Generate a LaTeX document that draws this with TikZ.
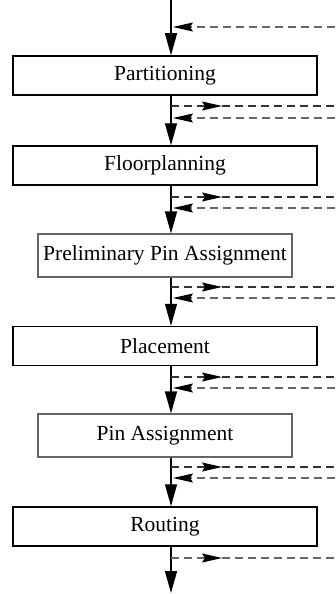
\documentclass[tikz,border=0pt]{standalone}
\usepackage{fontspec}
\setmainfont{Liberation Serif}
\usetikzlibrary{arrows.meta}
\begin{document}
\begin{tikzpicture}[x=1pt,y=-1pt,
  stagebox/.style={draw=black, line width=1.5pt, minimum width=304pt, minimum height=39pt, inner sep=0pt, font=\fontsize{21.5}{25}\selectfont},
  pinbox/.style={draw=black!60, line width=1.2pt, minimum width=254pt, minimum height=43pt, inner sep=0pt, font=\fontsize{21.5}{25}\selectfont},
  flow/.style={line width=1.4pt, -{Triangle[length=22pt,width=12pt]}},
  fbout/.style={dash pattern=on 8pt off 5pt, line width=1.1pt, draw=black!80},
  fbback/.style={dash pattern=on 8pt off 5pt, line width=1.1pt, draw=black!60},
  fbtip/.style={-{Stealth[length=20pt,width=9pt,inset=3pt,color=black,fill=black]}}
]
\useasboundingbox (0,0) rectangle (335,594);

\node[stagebox] (p)   at (165,75.5)  {Partitioning};
\node[stagebox] (f)   at (165,165.5) {Floorplanning};
\node[pinbox]   (ppa) at (165,255.5) {Preliminary Pin Assignment};
\node[stagebox] (pl)  at (165,346)   {Placement};
\node[pinbox]   (pa)  at (165,435.5) {Pin Assignment};
\node[stagebox] (r)   at (165,526.5) {Routing};

\coordinate (top) at (171,0);
\coordinate (bot) at (171,593);

\draw[flow] (top) -- (p.north -| top);
\draw[flow] (p.south -| top) -- (f.north -| top);
\draw[flow] (f.south -| top) -- (ppa.north -| top);
\draw[flow] (ppa.south -| top) -- (pl.north -| top);
\draw[flow] (pl.south -| top) -- (pa.north -| top);
\draw[flow] (pa.south -| top) -- (r.north -| top);
\draw[flow] (r.south -| top) -- (bot);

% incoming feedback at top
\coordinate (ine) at (335,27);
\coordinate (ins) at (173,27);
\draw[fbback, fbtip] (ine) -- (ins);

% feedback pairs between stages
\foreach \ya/\yb [count=\i] in {106/118, 197/208, 287/298, 377/388, 467/478} {
  \coordinate (o\i) at (171,\ya);
  \coordinate (m\i) at (222,\ya);
  \coordinate (e\i) at (335,\ya);
  \coordinate (b\i) at (335,\yb);
  \coordinate (t\i) at (173,\yb);
  \draw[fbout, fbtip] (o\i) -- (m\i);
  \draw[fbout] (m\i) -- (e\i);
  \draw[fbback, fbtip] (b\i) -- (t\i);
}

% outgoing feedback at bottom
\coordinate (lo) at (171,558);
\coordinate (lm) at (222,558);
\coordinate (le) at (335,558);
\draw[fbback, fbtip] (lo) -- (lm);
\draw[fbback] (lm) -- (le);
\end{tikzpicture}
\end{document}
